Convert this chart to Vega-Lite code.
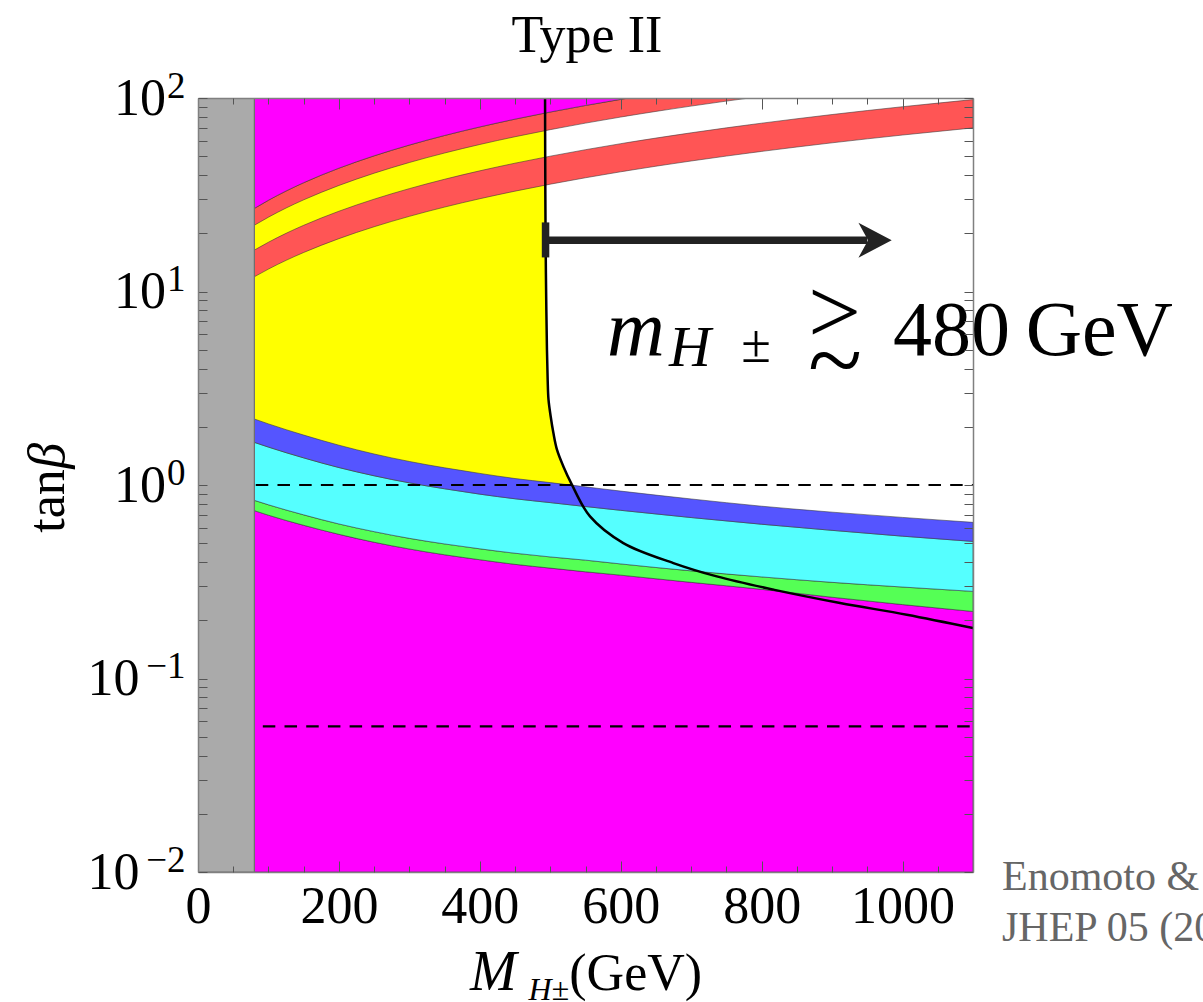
{
  "$schema": "https://vega.github.io/schema/vega-lite/v6.json",
  "width": 775,
  "height": 774,
  "autosize": "none",
  "padding": {"left": 198, "top": 98, "right": 230, "bottom": 130},
  "background": "white",
  "config": {
    "view": {"stroke": null},
    "font": "Liberation Serif"
  },
  "datasets": {
    "lower": [
      {"x": 80, "bt": 2.193, "bc": 1.661, "cg": 0.833, "gm": 0.737},
      {"x": 100, "bt": 2.069, "bc": 1.570, "cg": 0.790, "gm": 0.698},
      {"x": 150, "bt": 1.811, "bc": 1.381, "cg": 0.701, "gm": 0.619},
      {"x": 200, "bt": 1.606, "bc": 1.231, "cg": 0.629, "gm": 0.556},
      {"x": 250, "bt": 1.446, "bc": 1.116, "cg": 0.574, "gm": 0.506},
      {"x": 300, "bt": 1.323, "bc": 1.026, "cg": 0.530, "gm": 0.467},
      {"x": 350, "bt": 1.227, "bc": 0.956, "cg": 0.496, "gm": 0.436},
      {"x": 400, "bt": 1.148, "bc": 0.897, "cg": 0.468, "gm": 0.411},
      {"x": 450, "bt": 1.080, "bc": 0.849, "cg": 0.444, "gm": 0.389},
      {"x": 500, "bt": 1.029, "bc": 0.811, "cg": 0.425, "gm": 0.372},
      {"x": 550, "bt": 0.978, "bc": 0.774, "cg": 0.409, "gm": 0.356},
      {"x": 600, "bt": 0.930, "bc": 0.740, "cg": 0.391, "gm": 0.342},
      {"x": 700, "bt": 0.847, "bc": 0.679, "cg": 0.360, "gm": 0.314},
      {"x": 800, "bt": 0.777, "bc": 0.627, "cg": 0.335, "gm": 0.289},
      {"x": 900, "bt": 0.724, "bc": 0.583, "cg": 0.314, "gm": 0.263},
      {"x": 1000, "bt": 0.680, "bc": 0.544, "cg": 0.297, "gm": 0.241},
      {"x": 1100, "bt": 0.641, "bc": 0.511, "cg": 0.282, "gm": 0.222}
    ],
    "upper": [
      {"x": 80, "b1": 26.88, "b2": 22.0, "b3": 16.37, "b4": 11.92},
      {"x": 100, "b1": 29.63, "b2": 24.22, "b3": 17.97, "b4": 13.06},
      {"x": 125, "b1": 33.07, "b2": 27.0, "b3": 19.98, "b4": 14.49},
      {"x": 150, "b1": 36.51, "b2": 29.77, "b3": 21.98, "b4": 15.91},
      {"x": 200, "b1": 43.38, "b2": 35.32, "b3": 25.99, "b4": 18.76},
      {"x": 250, "b1": 50.26, "b2": 40.87, "b3": 30.0, "b4": 21.61},
      {"x": 300, "b1": 57.13, "b2": 46.42, "b3": 34.01, "b4": 24.46},
      {"x": 350, "b1": 64.01, "b2": 51.97, "b3": 38.02, "b4": 27.31},
      {"x": 400, "b1": 70.88, "b2": 57.52, "b3": 42.03, "b4": 30.16},
      {"x": 450, "b1": 77.76, "b2": 63.07, "b3": 46.04, "b4": 33.01},
      {"x": 500, "b1": 84.63, "b2": 68.62, "b3": 50.05, "b4": 35.86},
      {"x": 550, "b1": 91.51, "b2": 74.17, "b3": 54.06, "b4": 38.71},
      {"x": 600, "b1": 98.38, "b2": 79.72, "b3": 58.07, "b4": 41.56},
      {"x": 611.8, "b1": 100, "b2": 81.03, "b3": 59.02, "b4": 42.23},
      {"x": 650, "b1": 100, "b2": 85.27, "b3": 62.08, "b4": 44.41},
      {"x": 700, "b1": 100, "b2": 90.82, "b3": 66.09, "b4": 47.26},
      {"x": 750, "b1": 100, "b2": 96.37, "b3": 70.1, "b4": 50.11},
      {"x": 782.7, "b1": 100, "b2": 100, "b3": 72.72, "b4": 51.97},
      {"x": 800, "b1": 100, "b2": 100, "b3": 74.11, "b4": 52.96},
      {"x": 900, "b1": 100, "b2": 100, "b3": 82.13, "b4": 58.66},
      {"x": 1000, "b1": 100, "b2": 100, "b3": 90.15, "b4": 64.36},
      {"x": 1100, "b1": 100, "b2": 100, "b3": 98.17, "b4": 70.06}
    ],
    "yellow": [
      {"t": 100, "x": 492.6},
      {"t": 50, "x": 492.8},
      {"t": 20, "x": 493.3},
      {"t": 10, "x": 494.1},
      {"t": 5, "x": 495.3},
      {"t": 3.5, "x": 496.3},
      {"t": 2.76, "x": 497.5},
      {"t": 2.26, "x": 500.6},
      {"t": 1.86, "x": 504.4},
      {"t": 1.522, "x": 509.5},
      {"t": 1.247, "x": 518.6},
      {"t": 1.007, "x": 530.5},
      {"t": 0.97, "x": 533.3}
    ],
    "bound": [
      {"t": 100, "x": 492.6},
      {"t": 50, "x": 492.8},
      {"t": 20, "x": 493.3},
      {"t": 10, "x": 494.1},
      {"t": 5, "x": 495.3},
      {"t": 3.5, "x": 496.3},
      {"t": 2.76, "x": 497.5},
      {"t": 2.26, "x": 500.6},
      {"t": 1.86, "x": 504.4},
      {"t": 1.522, "x": 509.5},
      {"t": 1.247, "x": 518.6},
      {"t": 1.007, "x": 530.5},
      {"t": 0.688, "x": 556.4},
      {"t": 0.501, "x": 603.7},
      {"t": 0.395, "x": 674.7},
      {"t": 0.337, "x": 736.3},
      {"t": 0.288, "x": 816.6},
      {"t": 0.2455, "x": 911.3},
      {"t": 0.2137, "x": 1006},
      {"t": 0.1824, "x": 1100}
    ]
  },
  "layer": [
    {
      "data": {"name": "yellow"},
      "mark": {"type": "area", "orient": "horizontal", "color": "#ffff00", "interpolate": "catmull-rom", "clip": true},
      "encoding": {
        "y": {"field": "t", "type": "quantitative", "scale": {"type": "log", "domain": [0.01, 100]}, "axis": null},
        "x": {"field": "x", "type": "quantitative", "scale": {"domain": [0, 1100]}, "axis": null},
        "x2": {"datum": 80}
      }
    },
    {
      "data": {"name": "lower"},
      "mark": {"type": "area", "color": "#ff00ff", "stroke": "#333333", "strokeOpacity": 0.55, "strokeWidth": 1, "interpolate": "monotone", "clip": true},
      "encoding": {
        "x": {"field": "x", "type": "quantitative", "scale": {"domain": [0, 1100]}, "axis": null},
        "y": {"field": "gm", "type": "quantitative", "scale": {"type": "log", "domain": [0.01, 100]}, "axis": null},
        "y2": {"datum": 0.01}
      }
    },
    {
      "data": {"name": "lower"},
      "mark": {"type": "area", "color": "#55ff55", "stroke": "#333333", "strokeOpacity": 0.55, "strokeWidth": 1, "interpolate": "monotone", "clip": true},
      "encoding": {
        "x": {"field": "x", "type": "quantitative", "scale": {"domain": [0, 1100]}, "axis": null},
        "y": {"field": "gm", "type": "quantitative", "scale": {"type": "log", "domain": [0.01, 100]}, "axis": null},
        "y2": {"field": "cg"}
      }
    },
    {
      "data": {"name": "lower"},
      "mark": {"type": "area", "color": "#55ffff", "stroke": "#333333", "strokeOpacity": 0.55, "strokeWidth": 1, "interpolate": "monotone", "clip": true},
      "encoding": {
        "x": {"field": "x", "type": "quantitative", "scale": {"domain": [0, 1100]}, "axis": null},
        "y": {"field": "cg", "type": "quantitative", "scale": {"type": "log", "domain": [0.01, 100]}, "axis": null},
        "y2": {"field": "bc"}
      }
    },
    {
      "data": {"name": "lower"},
      "mark": {"type": "area", "color": "#5555ff", "stroke": "#333333", "strokeOpacity": 0.55, "strokeWidth": 1, "interpolate": "monotone", "clip": true},
      "encoding": {
        "x": {"field": "x", "type": "quantitative", "scale": {"domain": [0, 1100]}, "axis": null},
        "y": {"field": "bc", "type": "quantitative", "scale": {"type": "log", "domain": [0.01, 100]}, "axis": null},
        "y2": {"field": "bt"}
      }
    },
    {
      "data": {"name": "upper"},
      "mark": {"type": "area", "color": "#ff5555", "stroke": "#333333", "strokeOpacity": 0.55, "strokeWidth": 1, "interpolate": "monotone", "clip": true},
      "encoding": {
        "x": {"field": "x", "type": "quantitative", "scale": {"domain": [0, 1100]}, "axis": null},
        "y": {"field": "b4", "type": "quantitative", "scale": {"type": "log", "domain": [0.01, 100]}, "axis": null},
        "y2": {"field": "b3"}
      }
    },
    {
      "data": {"name": "upper"},
      "transform": [{"filter": "datum.x <= 782.7"}],
      "mark": {"type": "area", "color": "#ff5555", "stroke": "#333333", "strokeOpacity": 0.55, "strokeWidth": 1, "interpolate": "monotone", "clip": true},
      "encoding": {
        "x": {"field": "x", "type": "quantitative", "scale": {"domain": [0, 1100]}, "axis": null},
        "y": {"field": "b2", "type": "quantitative", "scale": {"type": "log", "domain": [0.01, 100]}, "axis": null},
        "y2": {"field": "b1"}
      }
    },
    {
      "data": {"name": "upper"},
      "transform": [{"filter": "datum.x <= 611.8"}],
      "mark": {"type": "area", "color": "#ff00ff", "stroke": "#333333", "strokeOpacity": 0.55, "strokeWidth": 1, "interpolate": "monotone", "clip": true},
      "encoding": {
        "x": {"field": "x", "type": "quantitative", "scale": {"domain": [0, 1100]}, "axis": null},
        "y": {"field": "b1", "type": "quantitative", "scale": {"type": "log", "domain": [0.01, 100]}, "axis": null},
        "y2": {"datum": 100}
      }
    },
    {
      "data": {"values": [{"x": 0, "x2": 80, "t": 0.01, "t2": 100}]},
      "mark": {"type": "rect", "color": "#aaaaaa", "stroke": "#6e6e6e", "strokeWidth": 1.2, "clip": true},
      "encoding": {
        "x": {"field": "x", "type": "quantitative", "scale": {"domain": [0, 1100]}, "axis": null},
        "x2": {"field": "x2"},
        "y": {"field": "t", "type": "quantitative", "scale": {"type": "log", "domain": [0.01, 100]}, "axis": null},
        "y2": {"field": "t2"}
      }
    },
    {
      "data": {"values": [{"x": 82, "x2": 1100, "t": 1}, {"x": 92, "x2": 1100, "t": 0.0566}]},
      "mark": {"type": "rule", "color": "black", "strokeWidth": 2.2, "strokeDash": [12.5, 9.2], "clip": true},
      "encoding": {
        "x": {"field": "x", "type": "quantitative", "scale": {"domain": [0, 1100]}, "axis": null},
        "x2": {"field": "x2"},
        "y": {"field": "t", "type": "quantitative", "scale": {"type": "log", "domain": [0.01, 100]}, "axis": null}
      }
    },
    {
      "data": {"name": "bound"},
      "mark": {"type": "line", "color": "black", "strokeWidth": 2.5, "interpolate": "catmull-rom", "clip": true},
      "encoding": {
        "x": {"field": "x", "type": "quantitative", "scale": {"domain": [0, 1100]}, "axis": null},
        "y": {"field": "t", "type": "quantitative", "scale": {"type": "log", "domain": [0.01, 100]}, "axis": null},
        "order": {"field": "t", "type": "quantitative", "sort": "descending"}
      }
    },
    {
      "data": {"values": [{"x": 493.3, "x2": 950, "t": 18.41}]},
      "mark": {"type": "rule", "color": "#222222", "strokeWidth": 7.5, "strokeCap": "butt"},
      "encoding": {
        "x": {"field": "x", "type": "quantitative", "scale": {"domain": [0, 1100]}, "axis": null},
        "x2": {"field": "x2"},
        "y": {"field": "t", "type": "quantitative", "scale": {"type": "log", "domain": [0.01, 100]}, "axis": null}
      }
    },
    {
      "data": {"values": [{"x": 493.3, "t": 15.0, "t2": 22.75}]},
      "mark": {"type": "rule", "color": "#222222", "strokeWidth": 7.5, "strokeCap": "butt"},
      "encoding": {
        "x": {"field": "x", "type": "quantitative", "scale": {"domain": [0, 1100]}, "axis": null},
        "y": {"field": "t", "type": "quantitative", "scale": {"type": "log", "domain": [0.01, 100]}, "axis": null},
        "y2": {"field": "t2"}
      }
    },
    {
      "data": {"values": [{"x": 961, "t": 18.41}]},
      "mark": {"type": "point", "shape": "M0.95,0L-0.95,-1L-0.4,0L-0.95,1Z", "size": 1225, "filled": true, "fill": "#222222", "opacity": 1, "strokeWidth": 0},
      "encoding": {
        "x": {"field": "x", "type": "quantitative", "scale": {"domain": [0, 1100]}, "axis": null},
        "y": {"field": "t", "type": "quantitative", "scale": {"type": "log", "domain": [0.01, 100]}, "axis": null}
      }
    },
    {
      "data": {"values": [{"x": 552, "t": 172.5, "label": "Type II"}]},
      "mark": {"type": "text", "font": "Liberation Serif", "fontSize": 52, "align": "center", "baseline": "alphabetic", "color": "black"},
      "encoding": {
        "x": {"field": "x", "type": "quantitative", "scale": {"domain": [0, 1100]}, "axis": null},
        "y": {"field": "t", "type": "quantitative", "scale": {"type": "log", "domain": [0.01, 100]}, "axis": null},
        "text": {"field": "label"}
      }
    },
    {
      "data": {"values": [{"x": -190.2, "t": 0.567, "label": "tan"}]},
      "mark": {"type": "text", "font": "Liberation Serif", "fontSize": 52, "angle": 270, "align": "left", "baseline": "alphabetic", "color": "black"},
      "encoding": {
        "x": {"field": "x", "type": "quantitative", "scale": {"domain": [0, 1100]}, "axis": null},
        "y": {"field": "t", "type": "quantitative", "scale": {"type": "log", "domain": [0.01, 100]}, "axis": null},
        "text": {"field": "label"}
      }
    },
    {
      "data": {"values": [{"x": -190.2, "t": 1.214, "label": "β"}]},
      "mark": {"type": "text", "font": "Liberation Serif", "fontStyle": "italic", "fontSize": 52, "angle": 270, "align": "left", "baseline": "alphabetic", "color": "black"},
      "encoding": {
        "x": {"field": "x", "type": "quantitative", "scale": {"domain": [0, 1100]}, "axis": null},
        "y": {"field": "t", "type": "quantitative", "scale": {"type": "log", "domain": [0.01, 100]}, "axis": null},
        "text": {"field": "label"}
      }
    },
    {
      "data": {"values": [{"x": 580.6, "t": 4.715, "label": "m"}]},
      "mark": {"type": "text", "font": "Liberation Serif", "fontStyle": "italic", "fontSize": 80, "align": "left", "baseline": "alphabetic", "color": "black"},
      "encoding": {
        "x": {"field": "x", "type": "quantitative", "scale": {"domain": [0, 1100]}, "axis": null},
        "y": {"field": "t", "type": "quantitative", "scale": {"type": "log", "domain": [0.01, 100]}, "axis": null},
        "text": {"field": "label"}
      }
    },
    {
      "data": {"values": [{"x": 668.6, "t": 4.102, "label": "H"}]},
      "mark": {"type": "text", "font": "Liberation Serif", "fontStyle": "italic", "fontSize": 58, "align": "left", "baseline": "alphabetic", "color": "black"},
      "encoding": {
        "x": {"field": "x", "type": "quantitative", "scale": {"domain": [0, 1100]}, "axis": null},
        "y": {"field": "t", "type": "quantitative", "scale": {"type": "log", "domain": [0.01, 100]}, "axis": null},
        "text": {"field": "label"}
      }
    },
    {
      "data": {"values": [{"x": 771, "t": 4.3, "label": "±"}]},
      "mark": {"type": "text", "font": "Liberation Serif", "fontSize": 54, "align": "left", "baseline": "alphabetic", "color": "black"},
      "encoding": {
        "x": {"field": "x", "type": "quantitative", "scale": {"domain": [0, 1100]}, "axis": null},
        "y": {"field": "t", "type": "quantitative", "scale": {"type": "log", "domain": [0.01, 100]}, "axis": null},
        "text": {"field": "label"}
      }
    },
    {
      "data": {"values": [{"x": 865.9, "t": 5.437, "label": ">"}]},
      "mark": {"type": "text", "font": "Liberation Serif", "fontSize": 94, "align": "left", "baseline": "alphabetic", "color": "black"},
      "encoding": {
        "x": {"field": "x", "type": "quantitative", "scale": {"domain": [0, 1100]}, "axis": null},
        "y": {"field": "t", "type": "quantitative", "scale": {"type": "log", "domain": [0.01, 100]}, "axis": null},
        "text": {"field": "label"}
      }
    },
    {
      "data": {"values": [{"x": 865.9, "t": 2.982, "label": "~"}]},
      "mark": {"type": "text", "font": "Liberation Serif", "fontSize": 100, "align": "left", "baseline": "alphabetic", "color": "black"},
      "encoding": {
        "x": {"field": "x", "type": "quantitative", "scale": {"domain": [0, 1100]}, "axis": null},
        "y": {"field": "t", "type": "quantitative", "scale": {"type": "log", "domain": [0.01, 100]}, "axis": null},
        "text": {"field": "label"}
      }
    },
    {
      "data": {"values": [{"x": 986.5, "t": 4.715, "label": "480\u2009GeV"}]},
      "mark": {"type": "text", "font": "Liberation Serif", "fontSize": 78, "align": "left", "baseline": "alphabetic", "color": "black"},
      "encoding": {
        "x": {"field": "x", "type": "quantitative", "scale": {"domain": [0, 1100]}, "axis": null},
        "y": {"field": "t", "type": "quantitative", "scale": {"type": "log", "domain": [0.01, 100]}, "axis": null},
        "text": {"field": "label"}
      }
    },
    {
      "data": {"values": [{"x": 386, "t": 0.002467, "label": "M"}]},
      "mark": {"type": "text", "font": "Liberation Serif", "fontStyle": "italic", "fontSize": 56, "align": "left", "baseline": "alphabetic", "color": "black"},
      "encoding": {
        "x": {"field": "x", "type": "quantitative", "scale": {"domain": [0, 1100]}, "axis": null},
        "y": {"field": "t", "type": "quantitative", "scale": {"type": "log", "domain": [0.01, 100]}, "axis": null},
        "text": {"field": "label"}
      }
    },
    {
      "data": {"values": [{"x": 469, "t": 0.002188, "label": "H±"}]},
      "mark": {"type": "text", "font": "Liberation Serif", "fontStyle": "italic", "fontSize": 32, "align": "left", "baseline": "alphabetic", "color": "black"},
      "encoding": {
        "x": {"field": "x", "type": "quantitative", "scale": {"domain": [0, 1100]}, "axis": null},
        "y": {"field": "t", "type": "quantitative", "scale": {"type": "log", "domain": [0.01, 100]}, "axis": null},
        "text": {"field": "label"}
      }
    },
    {
      "data": {"values": [{"x": 527, "t": 0.002467, "label": "(GeV)"}]},
      "mark": {"type": "text", "font": "Liberation Serif", "fontSize": 52, "align": "left", "baseline": "alphabetic", "color": "black"},
      "encoding": {
        "x": {"field": "x", "type": "quantitative", "scale": {"domain": [0, 1100]}, "axis": null},
        "y": {"field": "t", "type": "quantitative", "scale": {"type": "log", "domain": [0.01, 100]}, "axis": null},
        "text": {"field": "label"}
      }
    },
    {
      "data": {"values": [{"x": 1141.2, "t": 0.008101, "label": "Enomoto & Watanabe"}, {"x": 1141.2, "t": 0.004416, "label": "JHEP 05 (2016) 002"}]},
      "mark": {"type": "text", "font": "Liberation Serif", "fontSize": 42, "align": "left", "baseline": "alphabetic", "color": "#666666"},
      "encoding": {
        "x": {"field": "x", "type": "quantitative", "scale": {"domain": [0, 1100]}, "axis": null},
        "y": {"field": "t", "type": "quantitative", "scale": {"type": "log", "domain": [0.01, 100]}, "axis": null},
        "text": {"field": "label"}
      }
    },
    {
      "data": {"values": [{"x": 550, "t": 1}]},
      "mark": {"type": "point", "opacity": 0},
      "encoding": {
        "x": {
          "field": "x", "type": "quantitative", "scale": {"domain": [0, 1100]},
          "axis": {
            "orient": "bottom", "values": [0, 200, 400, 600, 800, 1000], "format": "d",
            "tickSize": -11, "tickColor": "#555555", "tickWidth": 1,
            "domain": true, "domainColor": "#808080", "domainWidth": 1.5,
            "labelFont": "Liberation Serif", "labelFontSize": 52, "labelColor": "black",
            "labelPadding": 61, "labelBaseline": "alphabetic", "labelAngle": 0,
            "labelFlush": false, "labelOverlap": false, "labelBound": false,
            "grid": false, "title": null, "zindex": 1
          }
        },
        "y": {
          "field": "t", "type": "quantitative", "scale": {"type": "log", "domain": [0.01, 100]},
          "axis": {
            "orient": "left",
            "values": [0.01, 0.02, 0.03, 0.04, 0.05, 0.06, 0.07, 0.08, 0.09, 0.1, 0.2, 0.3, 0.4, 0.5, 0.6, 0.7, 0.8, 0.9, 1, 2, 3, 4, 5, 6, 7, 8, 9, 10, 20, 30, 40, 50, 60, 70, 80, 90, 100],
            "labelExpr": "datum.value == 100 || datum.value == 10 || datum.value == 1 ? '10' : ''",
            "tickSize": -9, "tickColor": "#555555", "tickWidth": 1,
            "domain": true, "domainColor": "#808080", "domainWidth": 1.5,
            "labelFont": "Liberation Serif", "labelFontSize": 52, "labelColor": "black",
            "labelPadding": 41.5, "labelAlign": "right", "labelBaseline": "middle",
            "labelFlush": false, "labelOverlap": false, "labelBound": false,
            "grid": false, "title": null, "zindex": 1
          }
        }
      }
    },
    {
      "data": {"values": [{"x": 550, "t": 1}]},
      "mark": {"type": "point", "opacity": 0},
      "encoding": {
        "x": {
          "field": "x", "type": "quantitative", "scale": {"domain": [0, 1100]},
          "axis": {
            "orient": "bottom", "values": [50, 100, 150, 250, 300, 350, 450, 500, 550, 650, 700, 750, 850, 900, 950, 1050],
            "tickSize": -6, "tickColor": "#555555", "tickWidth": 1,
            "domain": false, "labels": false, "grid": false, "title": null, "zindex": 1
          }
        },
        "y": {
          "field": "t", "type": "quantitative", "scale": {"type": "log", "domain": [0.01, 100]},
          "axis": {
            "orient": "right",
            "values": [0.01, 0.02, 0.03, 0.04, 0.05, 0.06, 0.07, 0.08, 0.09, 0.1, 0.2, 0.3, 0.4, 0.5, 0.6, 0.7, 0.8, 0.9, 1, 2, 3, 4, 5, 6, 7, 8, 9, 10, 20, 30, 40, 50, 60, 70, 80, 90, 100],
            "tickSize": -9, "tickColor": "#555555", "tickWidth": 1,
            "domain": true, "domainColor": "#808080", "domainWidth": 1.5,
            "labels": false, "grid": false, "title": null, "zindex": 1
          }
        }
      }
    },
    {
      "data": {"values": [{"x": 550, "t": 1}]},
      "mark": {"type": "point", "opacity": 0},
      "encoding": {
        "x": {
          "field": "x", "type": "quantitative", "scale": {"domain": [0, 1100]},
          "axis": {
            "orient": "top", "values": [0, 200, 400, 600, 800, 1000],
            "tickSize": -11, "tickColor": "#555555", "tickWidth": 1,
            "domain": true, "domainColor": "#808080", "domainWidth": 1.5,
            "labels": false, "grid": false, "title": null, "zindex": 1
          }
        },
        "y": {
          "field": "t", "type": "quantitative", "scale": {"type": "log", "domain": [0.01, 100]},
          "axis": {
            "orient": "left", "values": [0.01, 0.1],
            "labelExpr": "'10'",
            "tickSize": -9, "tickOpacity": 0, "domain": false,
            "labelFont": "Liberation Serif", "labelFontSize": 52, "labelColor": "black",
            "labelPadding": 68, "labelAlign": "right", "labelBaseline": "middle",
            "labelFlush": false, "labelOverlap": false, "labelBound": false,
            "grid": false, "title": null, "zindex": 1
          }
        }
      }
    },
    {
      "data": {"values": [{"x": 550, "t": 1}]},
      "mark": {"type": "point", "opacity": 0},
      "encoding": {
        "x": {
          "field": "x", "type": "quantitative", "scale": {"domain": [0, 1100]},
          "axis": {
            "orient": "top", "values": [50, 100, 150, 250, 300, 350, 450, 500, 550, 650, 700, 750, 850, 900, 950, 1050],
            "tickSize": -6, "tickColor": "#555555", "tickWidth": 1,
            "domain": false, "labels": false, "grid": false, "title": null, "zindex": 1
          }
        },
        "y": {
          "field": "t", "type": "quantitative", "scale": {"type": "log", "domain": [0.01, 100]},
          "axis": {
            "orient": "left", "values": [0.01, 0.1, 1, 10, 100],
            "labelExpr": "datum.value == 100 ? '2' : datum.value == 10 ? '1' : datum.value == 1 ? '0' : datum.value == 0.1 ? '−1' : '−2'",
            "tickSize": -9, "tickOpacity": 0, "domain": false,
            "labelFont": "Liberation Serif", "labelFontSize": 37, "labelColor": "black",
            "labelPadding": 22, "labelAlign": "right", "labelBaseline": "alphabetic", "labelOffset": -1,
            "labelFlush": false, "labelOverlap": false, "labelBound": false,
            "grid": false, "title": null, "zindex": 1
          }
        }
      }
    }
  ],
  "resolve": {"axis": {"x": "independent", "y": "independent"}}
}
